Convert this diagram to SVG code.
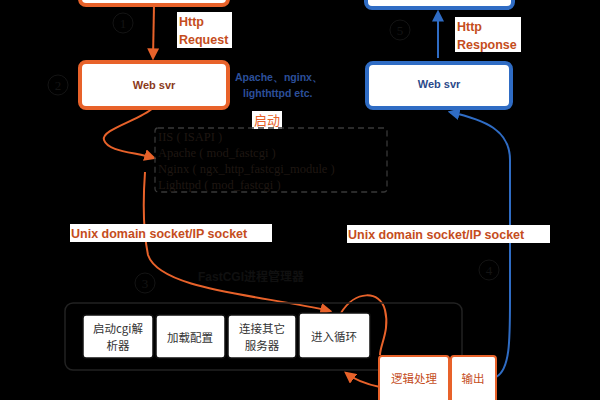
<svg xmlns="http://www.w3.org/2000/svg" width="600" height="400" viewBox="0 0 600 400">
<defs>
<style>
.lbl{fill:#fff}
.lt{font-family:"Liberation Sans",Arial,sans-serif;font-weight:bold;font-size:12.5px;fill:#c54d1c}
.obox{fill:#fff;stroke:#e8622a;stroke-width:4}
.bbox{fill:#fff;stroke:#2f6cc4;stroke-width:4}
.wbox{fill:#fff;stroke:#111;stroke-width:1.5}
.cn{font-family:"Noto Sans CJK SC",sans-serif;font-size:11.5px;fill:#333}
.circ{fill:none;stroke:#141414;stroke-width:1}
.dk{font-family:"Liberation Serif",serif;font-size:12.5px;fill:#1f1712}
.oc{fill:none;stroke:#e8622a;stroke-width:2}
.bc{fill:none;stroke:#2f6cc4;stroke-width:2}
</style>
<marker id="ao" viewBox="0 0 10 10" refX="8" refY="5" markerWidth="6" markerHeight="6" orient="auto"><path d="M0,0 L10,5 L0,10 z" fill="#e8622a"/></marker>
<marker id="ab" viewBox="0 0 10 10" refX="8" refY="5" markerWidth="6" markerHeight="6" orient="auto"><path d="M0,0 L10,5 L0,10 z" fill="#2f6cc4"/></marker>
</defs>
<rect width="600" height="400" fill="#000"/>

<g id="connectors">
<path class="oc" d="M154,5 L153,58" marker-end="url(#ao)"/>
<path class="bc" d="M438,58 L438,12" marker-end="url(#ab)"/>
<path class="oc" d="M153,108 C140,120 100,130 104,140 C108,152 135,152 154,158" marker-end="url(#ao)"/>
<path class="oc" d="M145,172 C143,200 143,230 148,255 C160,290 260,295 330,311" marker-end="url(#ao)"/>
<path class="oc" d="M341,313 C355,290 380,290 385,310 C390,330 380,345 380,355"/>
<path class="oc" d="M380,387 C370,385 355,380 346,373" marker-end="url(#ao)"/>
<path class="bc" d="M496,377 C510,370 510,340 510,300 L510,160 C510,130 485,120 450,112" marker-end="url(#ab)"/>
</g>

<g id="top-client">
<rect class="obox" x="80" y="-20" width="148" height="25" rx="6"/>
</g>
<g id="top-client-blue">
<rect class="bbox" x="366" y="-20" width="147" height="28" rx="6"/>
</g>

<g id="label-req">
<rect class="lbl" x="177" y="12" width="55" height="36"/>
<text class="lt" x="179" y="26">Http</text>
<text class="lt" x="179" y="44">Request</text>
</g>
<g id="label-resp">
<rect class="lbl" x="455" y="17" width="66" height="35"/>
<text class="lt" x="457" y="31">Http</text>
<text class="lt" x="457" y="49">Response</text>
</g>

<g id="websvr-left">
<rect class="obox" x="80" y="62" width="148" height="46" rx="6"/>
<text x="154" y="89" text-anchor="middle" font-family="Liberation Sans,Arial,sans-serif" font-weight="bold" font-size="11px" fill="#8b3a1a">Web svr</text>
</g>
<g id="websvr-right">
<rect class="bbox" x="367" y="63" width="144" height="45" rx="6"/>
<text x="439" y="88" text-anchor="middle" font-family="Liberation Sans,Arial,sans-serif" font-weight="bold" font-size="11px" fill="#2c4a8a">Web svr</text>
</g>

<g id="servers-note">
<text font-family="Liberation Sans,Arial,sans-serif" font-weight="bold" font-size="10.5px" fill="#2c4f9a"><tspan x="235" y="81">Apache、nginx、</tspan><tspan x="243" y="97">lighthttpd etc.</tspan></text>
</g>

<g id="start-label">
<rect class="lbl" x="252" y="111" width="30" height="18"/>
<text x="267" y="125" text-anchor="middle" font-family="Noto Sans CJK SC,sans-serif" font-size="13px" fill="#e8622a">启动</text>
</g>

<g id="modules">
<rect x="155" y="128" width="232" height="64" rx="3" fill="none" stroke="#383838" stroke-width="1.3" stroke-dasharray="6,4"/>
<text class="dk" x="158" y="141">IIS ( ISAPI )</text>
<text class="dk" x="158" y="157">Apache ( mod_fastcgi )</text>
<text class="dk" x="158" y="173">Nginx ( ngx_http_fastcgi_module )</text>
<text class="dk" x="158" y="189">Lighttpd ( mod_fastcgi )</text>
</g>

<g id="label-sock-left">
<rect class="lbl" x="70" y="224" width="202" height="18"/>
<text class="lt" x="71" y="238">Unix domain socket/IP socket</text>
</g>
<g id="label-sock-right">
<rect class="lbl" x="347" y="225" width="203" height="18"/>
<text class="lt" x="348" y="239">Unix domain socket/IP socket</text>
</g>

<g id="numbers" font-family="Liberation Serif,serif" font-size="13px" fill="#141414" text-anchor="middle">
<circle class="circ" cx="123" cy="23" r="10"/><text x="123" y="28">1</text>
<circle class="circ" cx="58" cy="85" r="10"/><text x="58" y="90">2</text>
<circle class="circ" cx="145" cy="283" r="10"/><text x="145" y="288">3</text>
<circle class="circ" cx="489" cy="270" r="10"/><text x="489" y="275">4</text>
<circle class="circ" cx="400" cy="30" r="10"/><text x="400" y="35">5</text>
</g>

<g id="fcgi-title">
<text x="198" y="281" font-family="Liberation Sans,Noto Sans CJK SC,sans-serif" font-weight="bold" font-size="12px" fill="#101010">FastCGI进程管理器</text>
</g>

<g id="manager">
<rect x="65" y="303" width="397" height="67" rx="8" fill="none" stroke="#222" stroke-width="1.5"/>
</g>

<g id="step1">
<rect class="wbox" x="83" y="315" width="70" height="43" rx="3"/>
<text class="cn" x="118" y="333" text-anchor="middle">启动cgi解</text>
<text class="cn" x="118" y="350" text-anchor="middle">析器</text>
</g>
<g id="step2">
<rect class="wbox" x="156" y="315" width="69" height="43" rx="3"/>
<text class="cn" x="190" y="342" text-anchor="middle">加载配置</text>
</g>
<g id="step3">
<rect class="wbox" x="228" y="315" width="68" height="43" rx="3"/>
<text class="cn" x="262" y="333" text-anchor="middle">连接其它</text>
<text class="cn" x="262" y="350" text-anchor="middle">服务器</text>
</g>
<g id="step4">
<rect class="wbox" x="299" y="313" width="71" height="45" rx="3"/>
<text class="cn" x="334" y="341" text-anchor="middle">进入循环</text>
</g>

<g id="logic">
<rect x="379" y="356" width="70" height="48" rx="3" fill="#fff" stroke="#e8622a" stroke-width="2"/>
<text x="414" y="383" text-anchor="middle" font-family="Noto Sans CJK SC,sans-serif" font-size="11.5px" fill="#c54d1c">逻辑处理</text>
</g>
<g id="output">
<rect x="451" y="356" width="45" height="48" rx="3" fill="#fff" stroke="#e8622a" stroke-width="2"/>
<text x="473" y="383" text-anchor="middle" font-family="Noto Sans CJK SC,sans-serif" font-size="11.5px" fill="#c54d1c">输出</text>
</g>
</svg>
